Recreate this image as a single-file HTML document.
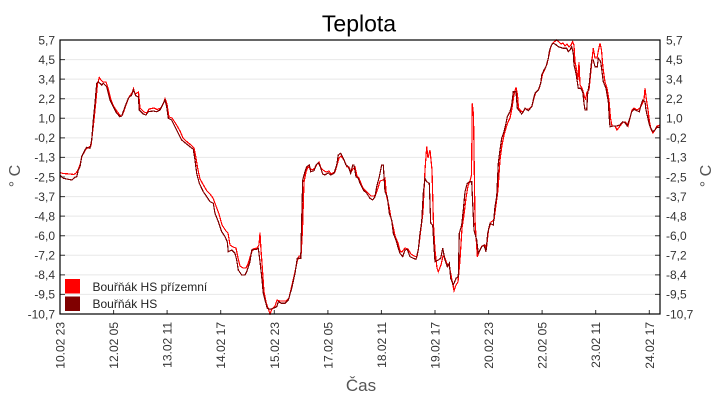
<!DOCTYPE html>
<html><head><meta charset="utf-8"><style>
html,body{margin:0;padding:0;background:#fff;}
svg{display:block;font-family:"Liberation Sans",sans-serif;}
</style></head><body>
<svg width="720" height="400" viewBox="0 0 720 400" xmlns="http://www.w3.org/2000/svg">
<rect x="0" y="0" width="720" height="400" fill="#fff"/>
<text x="359" y="31.5" font-size="23" text-anchor="middle" fill="#000">Teplota</text>
<defs><clipPath id="pc"><rect x="60" y="39" width="600" height="276"/></clipPath></defs>
<g stroke="#e8e8e8" stroke-width="1">
<line x1="60" x2="660" y1="59.57" y2="59.57"/>
<line x1="60" x2="660" y1="79.14" y2="79.14"/>
<line x1="60" x2="660" y1="98.71" y2="98.71"/>
<line x1="60" x2="660" y1="118.29" y2="118.29"/>
<line x1="60" x2="660" y1="137.86" y2="137.86"/>
<line x1="60" x2="660" y1="157.43" y2="157.43"/>
<line x1="60" x2="660" y1="177" y2="177"/>
<line x1="60" x2="660" y1="196.57" y2="196.57"/>
<line x1="60" x2="660" y1="216.14" y2="216.14"/>
<line x1="60" x2="660" y1="235.71" y2="235.71"/>
<line x1="60" x2="660" y1="255.29" y2="255.29"/>
<line x1="60" x2="660" y1="274.86" y2="274.86"/>
<line x1="60" x2="660" y1="294.43" y2="294.43"/>
</g>
<g stroke="#333" stroke-width="1">
<path d="M60 59.57h5M60 79.14h5M60 98.71h5M60 118.29h5M60 137.86h5M60 157.43h5M60 177h5M60 196.57h5M60 216.14h5M60 235.71h5M60 255.29h5M60 274.86h5M60 294.43h5"/>
<path d="M655 59.57h5M655 79.14h5M655 98.71h5M655 118.29h5M655 137.86h5M655 157.43h5M655 177h5M655 196.57h5M655 216.14h5M655 235.71h5M655 255.29h5M655 274.86h5M655 294.43h5"/>
<path d="M113.6 314v-4M167.1 314v-4M220.7 314v-4M274.3 314v-4M327.9 314v-4M381.4 314v-4M435 314v-4M488.6 314v-4M542.1 314v-4M595.7 314v-4M649.3 314v-4"/>
</g>
<g clip-path="url(#pc)" fill="none" stroke-width="1.2" stroke-linejoin="miter" shape-rendering="crispEdges">
<polyline stroke="#ff0000" points="60,172.5 63,173.5 70,174 74,174.5 76,173 78,170 80,165 82,156 86,149 89,147 91,146 92.5,133 94,120 96,100 97.5,84 99.3,77.5 101,80 103,82 106,82 108,88 111,100 114,107 117.5,112 121,116.5 122.5,115 126,105 129,97 132,93 133.5,88.5 135,94 137,93 138.5,92 140,108 144,112 147,113 149,109 154,108 157,109.5 161,108 163.5,103 165,98.5 167,104 169,117 172,118 176,124 180,131 183,138 186,141 191,145 194,148 196,158 198,170 200,179 204,186 207,191 210,194 213,198 216,206 219,214 222,225 226,231 228,233 230,245 233,247 236,248 238,258 240,266 243,268 246,268 248,264 251,254 253,249 257,248 259,245 260,232.7 261,250 262.5,270 264,292 266,302 268,308 270,314 272,309 275,306 277,300 280,301 283,301 286,301 289,298 292,285 295,272 297,262 299,256 301,256 302.5,230 304,182 306,172 308,167 310,168 312,170 315,168 317,164 319,162 321,168 323,170 326,172 329,171 331,174 335,172 337,165 339,158 341,156 344,160 347,167 349,167 351,172 353,169 355,167 357,176 359,178 360,181 363,188 367,192 371,196 374,196 376,194 378,188 380,181 383,180 385,178 386.5,196 389,206 391,218 393,226 395,236 398,243 400,251 402,252 405,248 408,249 411,254 414,256 417,257 419,245 421,228 423,212 425,170 426.7,146.7 428,158 430,150 432,170 433.5,225 435,250 437,268 438.3,271.7 441,265 443,256 445,258 447,264 449,265 451,275 454,290.7 456,285 458,282 460,260 462,228 464,215 466,198 468,186 470,181 471.5,175 472.3,103.3 473.5,115 475,220 477.3,256.7 480,250 482,246 485,245 486.5,248 488.5,230 491,222 494,220 496,205 498,190 500,160 502,145 504,135 506,128 508,122 510,118 512,108 514,95 516,87.3 517.5,95 518.5,108 521,111 523,112 525,109 529,109 532,106 534,98 536,92 539,89 541,82 542.5,74 545,69 547,64 549,55 550.5,48 552,44 554,42 556.7,40 559,42 561,44 563,43 565,46 567,44 569,47 571,45 572.7,41.7 574,45 575,62 577,72 578,80 579,62 580,85 582,88 584,95 585.5,100 587,92 589,90 591,70 592.5,55 593.3,48.3 595,58 597,58 598.5,50 600,43.3 601.5,50 603,68 605,82 607,88 609,100 610.5,118 612,126 615,126 617,130 620,126 623,122 625.5,122 628,126 630,118 632,110 634,108 637,110 640,108 642,104 644,100 645,88.3 646.5,100 648,110 649.5,122 651,129 653,133 655,130 657,126 660,125"/>
<polyline stroke="#800000" points="60,175 63.3,178.3 71.7,180 75,177.3 76.7,176.7 78.3,170 80,166.7 81.7,156.7 85,150 86.7,147.3 90,148.3 91.7,140 93.3,120 95,103.3 96.7,83.3 98.3,81.7 101.7,85 103.3,83.3 106.7,86.7 110,100 113.3,106.7 116.7,113.3 120,116.7 121.7,116 125,106.7 128.3,98.3 131.7,95 133.3,90 136,96 138.3,96.7 139.3,110 143.3,114 146,115 148.3,111.7 153.3,111 156.7,111.7 160,110 163.3,103.3 165,100 166.7,106.7 168.3,118.3 171.7,120 175,126.7 178.3,133.3 181.7,140 185,142.7 190,146.7 193.3,149.3 195,160 196.7,173.3 199.3,183.3 203.3,191.7 206.7,196.7 210,201.7 213.3,203.3 215,213.3 218.3,221.7 221.7,231.7 225,236.7 227.3,241.7 228.3,251.7 231.7,250 235,253.3 236.7,260 238.3,270 241.7,275 245,275 246.7,271.7 250,261.7 251.7,250 256.7,249.3 258.3,248.3 260,261.7 261.7,276.7 263.3,293.3 265,300 267.3,308.3 270,309.3 273.3,308.3 276.7,306.7 278.3,301.7 281.7,303.3 285,303.3 288.3,300 291.7,288.3 295,273.3 297.3,258.3 300.7,258.3 301.7,220 302.7,180 305,171.7 306.7,166.7 309.3,165 310.7,171.7 314,170.7 316,165 318.3,162.7 320,166 322.7,174 325,175 328.3,172.7 330.7,175 334,173.3 336.7,165 338.3,155 340.7,153.3 343.3,158.3 346,165 348.3,166.7 350.7,173.3 352.7,165 354,165 356,176.7 358.3,178.3 360,183.3 363.3,190 366.7,193.3 370,198.3 372.7,200 375,196.7 376.7,186.7 379.3,176.7 381.7,165 383.3,165 385,191.7 387.3,196.7 389.3,213.3 391.7,220 393.3,233.3 396,240 398.3,248.3 400,253.3 402.7,256.7 405,250 407.3,249.3 410,256.7 413.3,258.3 416,259.3 418.3,250 420,233.3 421.7,221.7 423.3,193.3 425,178.3 426.7,181.7 429.3,183.3 430.7,223.3 432.7,225 434,246.7 435,261.7 438.3,260 440.7,258.3 442.7,248.3 445,260 447.3,266.7 449.3,263.3 450.7,278.3 453.3,285 456,278.3 458.3,276.7 459.3,233.3 461.7,225 463.3,210 465,191.7 467.3,183.3 470,181.7 471.7,181.7 472.7,203.3 474,230 476.7,240 478.3,253.3 481.7,246.7 484,245 486,251.7 487.7,233.3 490,223.3 493.3,225 495,206.7 496.7,196.7 498.3,163.3 500,150 501.7,138.3 504,131.7 506,123.3 507.3,116.7 510,111.7 511.7,105 513.3,91.7 516,91.7 517.3,108.3 520,111.7 521.7,114 523.3,111.7 525,108.3 528.3,110.7 531.7,106.7 533.3,100 535,93.3 538.3,90 540.7,83.3 541.7,75 544,70 546,66.7 548.3,58.3 549.3,51.7 550.7,46.7 552.7,43.3 555,44 558.3,46.7 563.3,48.3 566.7,48.3 568.3,51.7 570,50 571.7,46.7 573.3,53.3 574,65 576,73.3 578.3,88.3 580.7,88.3 582.7,91.7 584,103.3 585,110 586.7,110 587.7,93.3 589.3,83.3 591.7,60 593.3,60 595,66.7 597.3,66.7 598.3,58.3 600.7,61.7 603.3,81.7 606,88.3 608.3,101.7 609.3,118.3 610,126.7 613.3,126 616.7,126 620,125 622.7,121.7 625,122.7 627.3,126 629.3,120 631.7,111.7 634,109.3 636.7,110.7 639.3,111.7 641,105 642.7,100 645,101.7 646,110 648.3,120 650,126.7 652.7,131.7 655,130 656.7,127.3 660,127.3"/>
</g>
<rect x="60" y="40" width="600" height="274" fill="none" stroke="#000" stroke-width="1.2"/>
<rect x="65" y="279" width="15" height="14.5" fill="#ff0000"/>
<rect x="65" y="296.5" width="15" height="14.5" fill="#800000"/>
<g font-size="12" fill="#222">
<text x="92.5" y="291">Bouřňák HS přízemní</text>
<text x="92.5" y="308">Bouřňák HS</text>
</g>
<g font-size="12" fill="#333" text-anchor="end">
<text x="55" y="44.3">5,7</text>
<text x="55" y="63.9">4,5</text>
<text x="55" y="83.4">3,4</text>
<text x="55" y="103">2,2</text>
<text x="55" y="122.6">1,0</text>
<text x="55" y="142.2">-0,2</text>
<text x="55" y="161.7">-1,3</text>
<text x="55" y="181.3">-2,5</text>
<text x="55" y="200.9">-3,7</text>
<text x="55" y="220.4">-4,8</text>
<text x="55" y="240">-6,0</text>
<text x="55" y="259.6">-7,2</text>
<text x="55" y="279.2">-8,4</text>
<text x="55" y="298.7">-9,5</text>
<text x="55" y="318.3">-10,7</text>
</g>
<g font-size="12" fill="#333" text-anchor="start">
<text x="666" y="44.3">5,7</text>
<text x="666" y="63.9">4,5</text>
<text x="666" y="83.4">3,4</text>
<text x="666" y="103">2,2</text>
<text x="666" y="122.6">1,0</text>
<text x="666" y="142.2">-0,2</text>
<text x="666" y="161.7">-1,3</text>
<text x="666" y="181.3">-2,5</text>
<text x="666" y="200.9">-3,7</text>
<text x="666" y="220.4">-4,8</text>
<text x="666" y="240">-6,0</text>
<text x="666" y="259.6">-7,2</text>
<text x="666" y="279.2">-8,4</text>
<text x="666" y="298.7">-9,5</text>
<text x="666" y="318.3">-10,7</text>
</g>
<g font-size="12" fill="#333" text-anchor="end">
<text transform="translate(64.5,322) rotate(-90)">10.02 23</text>
<text transform="translate(118.1,322) rotate(-90)">12.02 05</text>
<text transform="translate(171.6,322) rotate(-90)">13.02 11</text>
<text transform="translate(225.2,322) rotate(-90)">14.02 17</text>
<text transform="translate(278.8,322) rotate(-90)">15.02 23</text>
<text transform="translate(332.4,322) rotate(-90)">17.02 05</text>
<text transform="translate(385.9,322) rotate(-90)">18.02 11</text>
<text transform="translate(439.5,322) rotate(-90)">19.02 17</text>
<text transform="translate(493.1,322) rotate(-90)">20.02 23</text>
<text transform="translate(546.6,322) rotate(-90)">22.02 05</text>
<text transform="translate(600.2,322) rotate(-90)">23.02 11</text>
<text transform="translate(653.8,322) rotate(-90)">24.02 17</text>
</g>
<text x="361" y="391" font-size="17" fill="#555" text-anchor="middle">Čas</text>
<text transform="translate(20,176) rotate(-90)" font-size="16" fill="#555" text-anchor="middle">° C</text>
<text transform="translate(711,176) rotate(-90)" font-size="16" fill="#555" text-anchor="middle">° C</text>
</svg>
</body></html>
